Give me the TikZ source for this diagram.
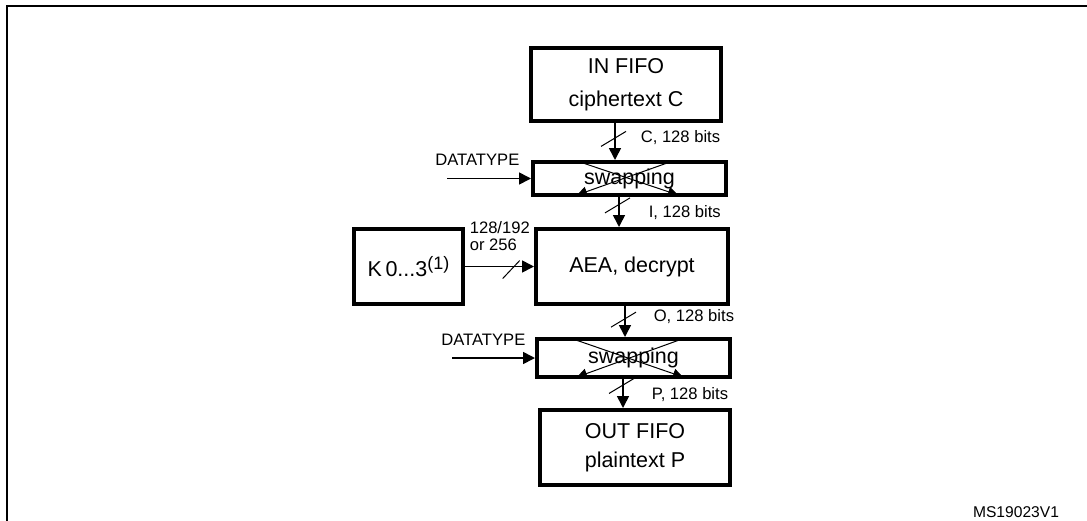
\documentclass[tikz,border=0pt]{standalone}
\usepackage{fontspec}
\setmainfont{Liberation Sans}
\usetikzlibrary{arrows.meta}

\newcommand{\bigtxt}{\fontsize{10.75}{14.5}\selectfont}
\newcommand{\smalltxt}{\fontsize{8.3}{8.6}\selectfont}

\begin{document}
\begin{tikzpicture}[x=0.5pt, y=-0.5pt,
    box/.style={draw, line width=2pt, font=\bigtxt, align=center, inner sep=0pt},
    sig/.style={-{Triangle[length=6pt,width=6pt]}, line width=0.8pt},
    cross/.style={-{Triangle[length=5pt,width=5pt]}, line width=0.5pt},
    slash/.style={line width=0.5pt},
    lab/.style={font=\smalltxt, inner sep=0pt}]
    \useasboundingbox (0,0) rectangle (1087,520);

    % Rahmen
    \draw[line width=1pt] (7,540) -- (7,6) -- (1100,6);

    % Bloecke
    \node[box, minimum width=95pt, minimum height=36.5pt] (infifo) at (626,84.5) {IN FIFO\\[2pt]ciphertext C};
    \node[box, minimum width=96.5pt, minimum height=16.5pt] (swap1) at (629.5,178.5) {swapping};
    \node[box, minimum width=96pt, minimum height=37.5pt] (aea) at (632,266.5) {AEA, decrypt};
    \node[box, minimum width=54.5pt, minimum height=37.5pt] (kbox) at (408.5,266.5) {K\,0...3\raisebox{3.5pt}{\fontsize{9}{9}\selectfont(1)}};
    \node[box, minimum width=96.5pt, minimum height=19pt] (swap2) at (633.5,358) {swapping};
    \node[box, minimum width=95pt, minimum height=37.5pt] (outfifo) at (635,447.5) {OUT FIFO\\plaintext P};

    % Datenpfad
    \draw[sig] ([xshift=-5.5pt]infifo.south) -- coordinate[pos=0.43] (s1)
        node[lab, anchor=west, pos=0.38, xshift=12.5pt] {C, 128 bits} ([xshift=-7.25pt]swap1.north);
    \draw[slash] ([shift={(-7pt,-3.75pt)}]s1) -- ([shift={(5.5pt,3.75pt)}]s1);

    \draw[sig] ([xshift=-5.25pt]swap1.south) -- coordinate[pos=0.28] (s2)
        node[lab, anchor=west, pos=0.53, xshift=14.5pt] {I, 128 bits} ([xshift=-6.5pt]aea.north);
    \draw[slash] ([shift={(-7pt,-3.75pt)}]s2) -- ([shift={(5.5pt,3.75pt)}]s2);

    \draw[sig] ([xshift=-3.5pt]aea.south) -- coordinate[pos=0.44] (s3)
        node[lab, anchor=west, pos=0.35, xshift=14pt] {O, 128 bits} ([xshift=-4.25pt]swap2.north);
    \draw[slash] ([shift={(-7pt,-3.75pt)}]s3) -- ([shift={(5.5pt,3.75pt)}]s3);

    \draw[sig] ([xshift=-5.25pt]swap2.south) -- coordinate[pos=0.24] (s4)
        node[lab, anchor=west, pos=0.52, xshift=14pt] {P, 128 bits} ([xshift=-6pt]outfifo.north);
    \draw[slash] ([shift={(-7pt,-3.75pt)}]s4) -- ([shift={(5.5pt,3.75pt)}]s4);

    % Schluessel
    \draw[sig] (kbox.east) -- coordinate[pos=0.67] (sk)
        node[lab, pos=0, anchor=south west, xshift=2pt, yshift=7.5pt, align=left] {128/192\\or 256} (aea.west);
    \draw[slash] ([shift={(-4.25pt,-6pt)}]sk) -- ([shift={(4.25pt,3pt)}]sk);

    % DATATYPE
    \coordinate (dt1) at ([xshift=-42pt]swap1.west);
    \draw[sig] (dt1) -- (swap1.west);
    \node[lab, anchor=south west] (dtlab1) at ([shift={(-6pt,6.5pt)}]dt1) {DATATYPE};
    \coordinate (dt2) at ([xshift=-41.5pt]swap2.west);
    \draw[sig] (dt2) -- (swap2.west);
    \node[lab, anchor=south west] (dtlab2) at ([shift={(-5.5pt,6pt)}]dt2) {DATATYPE};

    % Vertauschung
    \draw[cross] ([shift={(-24.75pt,-1pt)}]swap1.north) -- ([shift={(24.25pt,1pt)}]swap1.south);
    \draw[cross] ([shift={(20.25pt,-1pt)}]swap1.north) -- ([shift={(-26.25pt,1pt)}]swap1.south);
    \draw[cross] ([shift={(-30.25pt,-1pt)}]swap2.north) -- ([shift={(24.75pt,1pt)}]swap2.south);
    \draw[cross] ([shift={(24.25pt,-1pt)}]swap2.north) -- ([shift={(-28.25pt,1pt)}]swap2.south);

    \node[lab, font=\fontsize{7.8}{8}\selectfont] (msref) at (1016,512) {MS19023V1};
\end{tikzpicture}
\end{document}
